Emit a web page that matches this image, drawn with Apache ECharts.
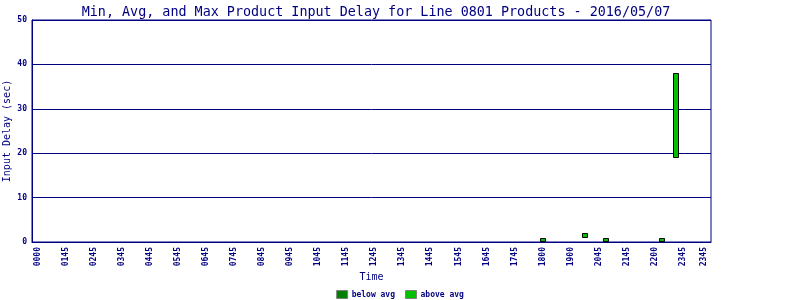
<!DOCTYPE html>
<html>
<head>
<meta charset="utf-8">
<script src="https://cdn.jsdelivr.net/npm/echarts@6/dist/echarts.min.js"></script>
<style>html,body{margin:0;padding:0;background:#fff}#c{width:800px;height:300px}</style>
</head>
<body>
<div id="c"></div>
<script>
// Data (time in hours of day)
var titleText = 'Min, Avg, and Max Product Input Delay for Line 0801 Products - 2016/05/07';
var tickHours = [0,1,2,3,4,5,6,7,8,9,10,11,12,13,14,15,16,17,18,19,20,21,22,23,23.75];
var tickLabels = ['0000','0145','0245','0345','0445','0545','0645','0745','0845','0945','1045','1145','1245','1345','1445','1545','1645','1745','1800','1900','2045','2145','2200','2345','2345'];
var barTimes = [18.0, 19.5, 20.25, 22.25, 22.75];
var minValues = [0, 0.8, 0, 0, 18.8];
var maxValues = [0.8, 2.0, 0.8, 0.8, 38.0];
var belowAvgValues = [];

var navy = '#000080';
var mono = '"DejaVu Sans Mono", "Liberation Mono", monospace';

var rangeData = barTimes.map(function (t, i) { return [t, minValues[i], maxValues[i]]; });

function renderBar(params, api) {
  var t = api.value(0);
  var lo = api.coord([t, api.value(1)]);
  var hi = api.coord([t, api.value(2)]);
  var w = 6;
  return {
    type: 'rect',
    shape: { x: Math.round(lo[0] - w / 2) + 0.5, y: Math.round(hi[1]) + 0.5, width: w - 1, height: Math.round(lo[1] - hi[1]) - 1 },
    style: { fill: '#00c000', stroke: '#000000', lineWidth: 1 }
  };
}

var chart = echarts.init(document.getElementById('c'), null, { renderer: 'canvas' });
chart.setOption({
  animation: false,
  backgroundColor: '#ffffff',
  title: {
    text: titleText,
    left: 371, textAlign: 'center', top: 1,
    textStyle: { fontFamily: mono, fontSize: 13.4, fontWeight: 'normal', color: navy }
  },
  legend: {
    top: 290, left: 'center', padding: 0,
    itemWidth: 11, itemHeight: 8, itemGap: 10,
    icon: 'rect',
    itemStyle: { borderColor: '#808080', borderWidth: 1 },
    textStyle: { fontFamily: mono, fontSize: 8, fontWeight: 'bold', color: navy, padding: [0, 0, 0, -1] },
    data: ['below avg', 'above avg']
  },
  grid: { left: 32, right: 89, top: 20, bottom: 58, show: true, borderColor: navy, borderWidth: 1, outerBoundsMode: 'none', containLabel: false },
  xAxis: {
    type: 'value', min: -0.2, max: 24,
    name: 'Time', nameLocation: 'middle', nameGap: 30, nameMoveOverlap: false,
    nameTextStyle: { fontFamily: mono, fontSize: 10, color: navy },
    axisLine: { show: true, lineStyle: { color: navy, width: 1 } },
    axisTick: { show: false },
    splitLine: { show: false },
    axisLabel: {
      customValues: tickHours,
      rotate: 90, margin: 5,
      fontFamily: mono, fontSize: 8, fontWeight: 'bold', color: navy,
      formatter: function (v) { var i = tickHours.indexOf(v); return i >= 0 ? tickLabels[i] : ''; }
    }
  },
  yAxis: {
    type: 'value', min: 0, max: 50, interval: 10,
    name: 'Input Delay (sec)', nameLocation: 'middle', nameGap: 20, nameMoveOverlap: false,
    nameTextStyle: { fontFamily: mono, fontSize: 10, color: navy },
    axisLine: { show: true, onZero: false, lineStyle: { color: navy, width: 1 } },
    axisTick: { show: false },
    splitLine: { show: true, lineStyle: { color: navy, width: 1 } },
    axisLabel: { margin: 5, fontFamily: mono, fontSize: 8, fontWeight: 'bold', color: navy }
  },
  series: [
    { name: 'below avg', type: 'custom', itemStyle: { color: '#008000' }, data: belowAvgValues, renderItem: renderBar },
    { name: 'above avg', type: 'custom', itemStyle: { color: '#00c000' }, encode: { x: 0, y: [1, 2] }, data: rangeData, renderItem: renderBar }
  ]
});
</script>
</body>
</html>
